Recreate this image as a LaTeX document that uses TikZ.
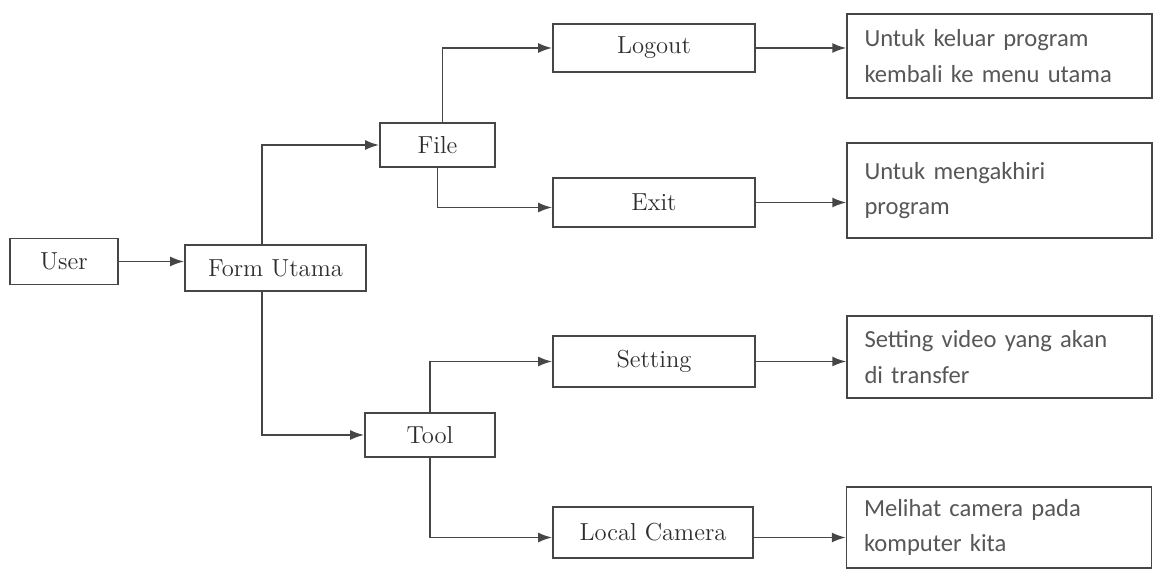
\documentclass[tikz,border=0pt]{standalone}
\usepackage{fontspec}
\newfontfamily\descfont{Carlito}
\usetikzlibrary{arrows.meta,positioning,calc}
\definecolor{linegray}{RGB}{70,70,70}
\definecolor{textgray}{RGB}{45,45,45}

\begin{document}
\begin{tikzpicture}[
    menubox/.style={draw=linegray,line width=1pt,align=center,minimum height=0.92cm,text=textgray,font=\fontsize{14}{17}\selectfont},
    descbox/.style={draw=linegray,line width=0.8pt,align=left,text width=5.4cm,minimum width=6.1cm,text=textgray!80,font=\descfont\fontsize{14}{20}\selectfont},
    arrow/.style={-{Latex[length=2.8mm,width=2mm]},line width=1pt,draw=linegray}
  ]
    \useasboundingbox (0,0) rectangle (23.08,11.44);

    \node[menubox,minimum width=2.16cm] (user) at (1.28,6.21) {User};
    \node[menubox,minimum width=3.62cm] (form) at (5.51,6.08) {Form Utama};
    \node[menubox,minimum width=2.30cm,minimum height=0.88cm] (file) at (8.75,8.54) {File};
    \node[menubox,minimum width=2.60cm,minimum height=0.88cm] (tool) at (8.60,2.74) {Tool};
    \node[menubox,minimum width=4.04cm,minimum height=0.96cm] (logout) at (13.08,10.48) {Logout};
    \node[menubox,minimum width=4.04cm,minimum height=0.98cm] (exit) at (13.08,7.39) {Exit};
    \node[menubox,minimum width=4.04cm,minimum height=1.02cm] (setting) at (13.08,4.21) {Setting};
    \node[menubox,minimum width=4.00cm,minimum height=1.02cm] (camera) at (13.06,0.79) {Local Camera};

    \node[descbox,minimum height=1.68cm] (keluar) at (19.99,10.32) {Untuk keluar program\\kembali ke menu utama};
    \node[descbox,minimum height=1.90cm] (akhiri) at (19.99,7.63) {Untuk mengakhiri\\program};
    \node[descbox,minimum height=1.64cm] (video) at (19.99,4.30) {Setting video yang akan\\di transfer};
    \node[descbox,minimum height=1.62cm] (lihat) at (19.98,0.89) {Melihat camera pada\\komputer kita};

    \draw[arrow] (user) -- (user -| form.west);
    \draw[arrow] ([xshift=-2.7mm]form.north) |- (file);
    \draw[arrow] ([xshift=-2.7mm]form.south) |- (tool);
    \draw[arrow] ([xshift=1mm]file.north) |- (logout);
    \draw[arrow] (file.south) |- ([yshift=-1mm]exit.west);
    \draw[arrow] (tool.north) |- (setting);
    \draw[arrow] (tool.south) |- ([yshift=-1mm]camera.west);
    \draw[arrow] (logout) -- (logout -| keluar.west);
    \draw[arrow] (exit) -- (exit -| akhiri.west);
    \draw[arrow] (setting) -- (setting -| video.west);
    \draw[arrow] ([yshift=-1mm]camera.east) -- ([yshift=-1mm]camera.east -| lihat.west);
  \end{tikzpicture}
\end{document}
